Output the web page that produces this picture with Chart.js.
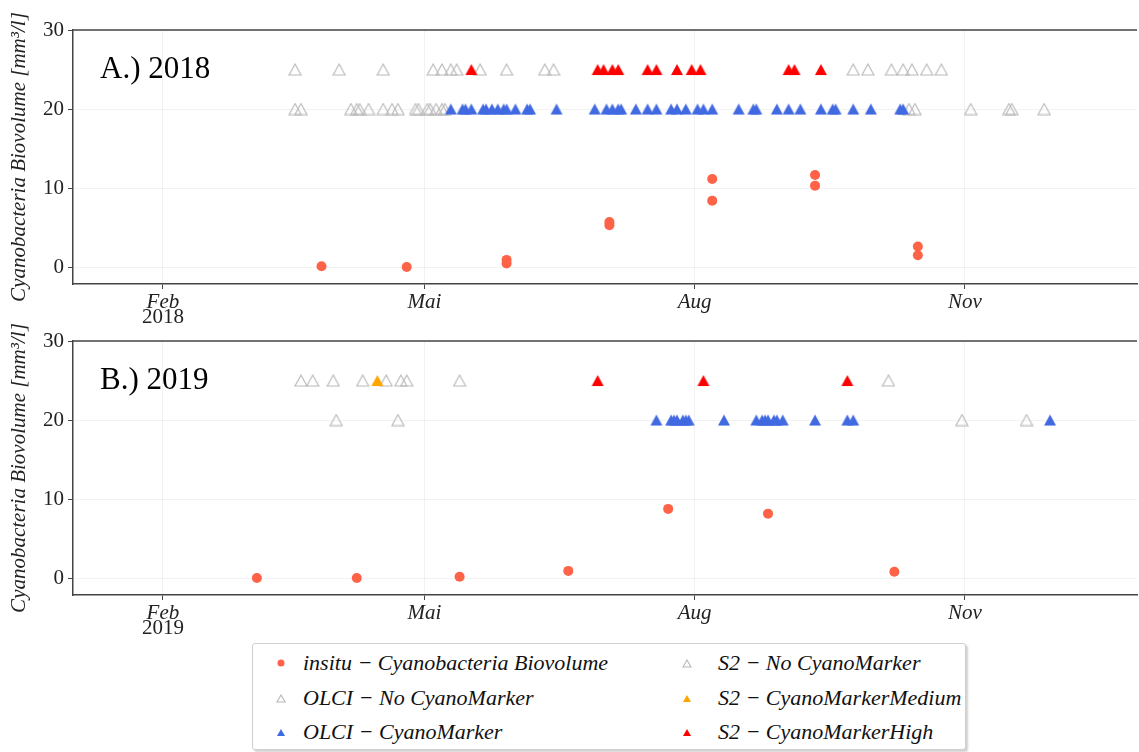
<!DOCTYPE html>
<html>
<head>
<meta charset="utf-8">
<script src="https://cdn.jsdelivr.net/npm/chart.js@4.4.0/dist/chart.umd.min.js"></script>
<style>
  html, body { margin: 0; padding: 0; background: #fff; }
  body { width: 1139px; height: 752px; position: relative; overflow: hidden; font-family: "Liberation Serif", "DejaVu Serif", serif; }
  .panel { position: absolute; left: 0; width: 1139px; height: 330px; }
  #panelA { top: 0; }
  #panelB { top: 311px; }
  #legend { position: absolute; left: 252px; top: 643px; width: 712px; height: 105px; border: 1px solid #cfcfcf; border-radius: 3px; box-shadow: 2px 2px 2px rgba(0,0,0,0.18); background: #fff; }
  .item { position: absolute; height: 26px; line-height: 26px; font-style: italic; font-size: 22px; color: #111; white-space: nowrap; }
  .item canvas { position: absolute; top: 6px; }
  .item span { position: absolute; }
</style>
</head>
<body>
<canvas id="panelA" class="panel" width="1139" height="330"></canvas>
<canvas id="panelB" class="panel" width="1139" height="330"></canvas>
<div id="legend"></div>
<script>
// x values are day of year (1 = 1 Jan)
const xTickDays = [32, 121, 213, 305];
const xTickLabels = ['Feb', 'Mai', 'Aug', 'Nov'];
const yTicks = [0, 10, 20, 30];
const panelLabels = ['A.) 2018', 'B.) 2019'];
const panelYears = ['2018', '2019'];
const levelOlci = 20;
const levelS2 = 25;

// 2018
const insituDays2018 = [86, 115, 149, 149, 184, 184, 219, 219, 254, 254, 289, 289];
const insituValues2018 = [0.1, 0.0, 0.9, 0.45, 5.7, 5.3, 11.15, 8.4, 11.65, 10.3, 2.6, 1.5];
const olciNoMarker2018 = [77, 79, 96, 98, 99, 102, 107, 110, 112, 118, 119, 122, 123, 125, 127, 128, 286, 288, 307, 320, 321, 332];
const olciMarker2018 = [130, 134, 135, 137, 141, 142, 144, 146, 148, 149, 152, 156, 157, 166, 179, 183, 185, 187, 188, 193, 197, 200, 205, 207, 210, 214, 216, 219, 228, 233, 234, 241, 245, 249, 256, 260, 261, 267, 273, 283, 284];
const s2NoMarker2018 = [77, 92, 107, 124, 127, 130, 132, 140, 149, 162, 165, 267, 272, 280, 284, 287, 292, 297];
const s2Medium2018 = [];
const s2High2018 = [137, 180, 182, 185, 187, 197, 200, 207, 212, 215, 245, 247, 256];

// 2019
const insituDays2019 = [64, 98, 133, 170, 204, 238, 281];
const insituValues2019 = [0.0, 0.0, 0.15, 0.9, 8.75, 8.15, 0.8];
const olciNoMarker2019 = [91, 112, 304, 326];
const olciMarker2019 = [200, 205, 206, 207, 209, 210, 211, 223, 234, 236, 237, 238, 240, 241, 243, 254, 265, 267, 334];
const s2NoMarker2019 = [79, 83, 90, 100, 108, 113, 115, 133, 279];
const s2Medium2019 = [105];
const s2High2019 = [180, 216, 265];

const seriesStyles = [
  { label: 'insitu − Cyanobacteria Biovolume', shape: 'circle', fill: '#ff6347', stroke: '#ff6347', lw: 0 },
  { label: 'OLCI − No CyanoMarker', shape: 'triangle', fill: null, stroke: '#b8b8b8', lw: 1.1 },
  { label: 'OLCI − CyanoMarker', shape: 'triangle', fill: '#4169e1', stroke: null, lw: 0 },
  { label: 'S2 − No CyanoMarker', shape: 'triangle', fill: null, stroke: '#b8b8b8', lw: 1.1 },
  { label: 'S2 − CyanoMarkerMedium', shape: 'triangle', fill: '#ffa500', stroke: null, lw: 0 },
  { label: 'S2 − CyanoMarkerHigh', shape: 'triangle', fill: '#ff0000', stroke: null, lw: 0 }
];

const serif = '"Liberation Serif", "DejaVu Serif", serif';

// triangle marker centred on its bounding box (like matplotlib '^')
function triangleImage(s, w, h) {
  const c = document.createElement('canvas');
  c.width = w + 2; c.height = h + 2;
  const g = c.getContext('2d');
  g.beginPath();
  g.moveTo(1, h + 1);
  g.lineTo(w + 1, h + 1);
  g.lineTo((w + 2) / 2, 1);
  g.closePath();
  if (s.fill) { g.fillStyle = s.fill; g.fill(); }
  if (s.stroke) { g.strokeStyle = s.stroke; g.lineWidth = s.lw; g.stroke(); }
  return c;
}

const framePlugin = {
  id: 'frame',
  afterDraw(chart, args, opts) {
    const { ctx, chartArea: a, scales: { x } } = chart;
    ctx.save();
    ctx.strokeStyle = '#444';
    ctx.lineWidth = 1.5;
    ctx.beginPath();
    ctx.moveTo(a.left, a.top);
    ctx.lineTo(a.right, a.top);
    ctx.stroke();
    ctx.fillStyle = '#000';
    ctx.font = '31px ' + serif;
    ctx.textBaseline = 'alphabetic';
    ctx.fillText(opts.label, a.left + 27, a.top + 48);
    ctx.font = '21px ' + serif;
    ctx.fillStyle = '#222';
    ctx.textAlign = 'center';
    ctx.textBaseline = 'middle';
    ctx.fillText(opts.year, x.getPixelForValue(xTickDays[0]), a.bottom + 33);
    ctx.restore();
  }
};

function rowPoints(days, level) {
  return days.map(d => ({ x: d, y: level }));
}

function makeChart(id, idx, insituDays, insituValues, olciNo, olciYes, s2No, s2Med, s2High) {
  const pts = [
    insituDays.map((d, i) => ({ x: d, y: insituValues[i] })),
    rowPoints(olciNo, levelOlci),
    rowPoints(olciYes, levelOlci),
    rowPoints(s2No, levelS2),
    rowPoints(s2Med, levelS2),
    rowPoints(s2High, levelS2)
  ];
  const datasets = seriesStyles.map((s, i) => ({
    label: s.label,
    data: pts[i],
    pointStyle: s.shape === 'circle' ? 'circle' : triangleImage(s, 12, 11),
    pointRadius: 5,
    pointHoverRadius: 5,
    pointBackgroundColor: s.fill || 'rgba(0,0,0,0)',
    pointBorderColor: s.stroke || s.fill,
    pointBorderWidth: 0,
    order: 6 - i
  }));

  return new Chart(document.getElementById(id), {
    type: 'scatter',
    data: { datasets: datasets },
    options: {
      responsive: false,
      animation: false,
      events: [],
      layout: { autoPadding: false, padding: { top: 30, right: 2, left: 0, bottom: 0 } },
      plugins: {
        legend: { display: false },
        tooltip: { enabled: false },
        frame: { label: panelLabels[idx], year: panelYears[idx] }
      },
      scales: {
        x: {
          type: 'linear',
          min: 1.4,
          max: 363.6,
          afterFit: s => { s.height = 46; s.paddingLeft = 0; s.paddingRight = 0; },
          afterBuildTicks: s => { s.ticks = xTickDays.map(v => ({ value: v })); },
          ticks: {
            callback: v => xTickLabels[xTickDays.indexOf(v)],
            font: { family: serif, size: 21, style: 'italic' },
            color: '#222',
            padding: 1,
            maxRotation: 0,
            autoSkip: false
          },
          grid: { color: 'rgba(0,0,0,0.05)', tickColor: '#444', tickLength: 5 },
          border: { color: '#444', width: 1.5 }
        },
        y: {
          min: -2.15,
          max: 30,
          afterFit: s => { s.width = 73; },
          afterBuildTicks: s => { s.ticks = yTicks.map(v => ({ value: v })); },
          ticks: {
            font: { family: serif, size: 21 },
            color: '#222',
            padding: 4
          },
          title: {
            display: true,
            text: 'Cyanobacteria Biovolume [mm³/l]',
            font: { family: serif, size: 21, style: 'italic' },
            color: '#222',
            padding: { top: 7, bottom: 0 }
          },
          grid: { color: 'rgba(0,0,0,0.05)', tickColor: '#444', tickLength: 5 },
          border: { color: '#444', width: 1.5 }
        }
      }
    },
    plugins: [framePlugin]
  });
}

makeChart('panelA', 0, insituDays2018, insituValues2018, olciNoMarker2018, olciMarker2018, s2NoMarker2018, s2Medium2018, s2High2018);
makeChart('panelB', 1, insituDays2019, insituValues2019, olciNoMarker2019, olciMarker2019, s2NoMarker2019, s2Medium2019, s2High2019);

// legend: two columns, three rows
const legendCols = [28, 434];
const legendRows = [19, 54, 88];
const legend = document.getElementById('legend');
seriesStyles.forEach((s, i) => {
  const col = Math.floor(i / 3), row = i % 3;
  const item = document.createElement('div');
  item.className = 'item';
  item.style.left = (legendCols[col] - 7) + 'px';
  item.style.top = (legendRows[row] - 13) + 'px';
  let c;
  if (s.shape === 'circle') {
    c = document.createElement('canvas');
    c.width = 14; c.height = 14;
    const g = c.getContext('2d');
    g.fillStyle = s.fill;
    g.beginPath();
    g.arc(7, 7, 3.5, 0, Math.PI * 2);
    g.fill();
  } else {
    c = triangleImage(s, 8, 7);
    c.style.marginLeft = '2px';
    c.style.marginTop = '3px';
  }
  item.appendChild(c);
  const t = document.createElement('span');
  t.style.left = (col === 0 ? 29 : 38) + 'px';
  t.textContent = s.label;
  item.appendChild(t);
  legend.appendChild(item);
});
</script>
</body>
</html>
